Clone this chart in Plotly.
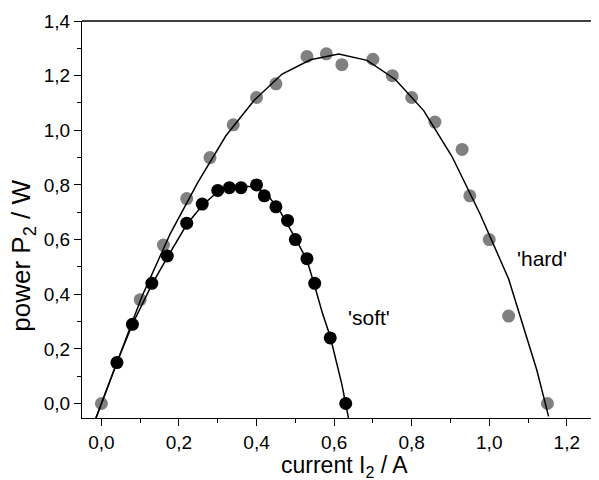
import plotly.graph_objects as go

# measured data: 'hard' source (grey) and 'soft' source (black)
hard_I = [0.0, 0.10, 0.16, 0.22, 0.28, 0.34, 0.40, 0.45, 0.53, 0.58, 0.62, 0.70, 0.75, 0.80, 0.86, 0.93, 0.95, 1.00, 1.05, 1.15]
hard_P = [0.00, 0.38, 0.58, 0.75, 0.90, 1.02, 1.12, 1.17, 1.27, 1.28, 1.24, 1.26, 1.20, 1.12, 1.03, 0.93, 0.76, 0.60, 0.32, 0.00]

soft_I = [0.04, 0.08, 0.13, 0.17, 0.22, 0.26, 0.30, 0.33, 0.36, 0.40, 0.42, 0.45, 0.48, 0.50, 0.53, 0.55, 0.59, 0.63]
soft_P = [0.15, 0.29, 0.44, 0.54, 0.66, 0.73, 0.78, 0.79, 0.79, 0.80, 0.76, 0.72, 0.67, 0.60, 0.53, 0.44, 0.24, 0.00]

# fitted curves
hard_fit_I = [-0.014, 0.032, 0.104, 0.177, 0.249, 0.321, 0.394, 0.466, 0.539, 0.612, 0.685, 0.758, 0.831, 0.904, 0.977, 1.050, 1.123, 1.153]
hard_fit_P = [-0.053, 0.12, 0.39, 0.62, 0.81, 0.98, 1.11, 1.206, 1.258, 1.279, 1.256, 1.186, 1.072, 0.904, 0.692, 0.456, 0.121, -0.047]

soft_fit_I = [-0.014, 0.04, 0.08, 0.13, 0.17, 0.22, 0.26, 0.30, 0.35, 0.40, 0.43, 0.46, 0.50, 0.53, 0.55, 0.57, 0.59, 0.62, 0.637]
soft_fit_P = [-0.053, 0.15, 0.29, 0.435, 0.535, 0.655, 0.725, 0.775, 0.797, 0.792, 0.76, 0.705, 0.605, 0.525, 0.43, 0.33, 0.245, 0.07, -0.053]

x_ticks = [0.0, 0.2, 0.4, 0.6, 0.8, 1.0, 1.2]
y_ticks = [0.0, 0.2, 0.4, 0.6, 0.8, 1.0, 1.2, 1.4]

FONT = "Arial, Liberation Sans, sans-serif"

fig = go.Figure()
fig.add_trace(go.Scatter(x=hard_I, y=hard_P, mode="markers",
                         marker=dict(color="#808080", size=13, line=dict(width=0)),
                         name="hard"))
fig.add_trace(go.Scatter(x=hard_fit_I, y=hard_fit_P, mode="lines",
                         line=dict(color="black", width=1.5), name="hard fit"))
fig.add_trace(go.Scatter(x=soft_I, y=soft_P, mode="markers",
                         marker=dict(color="black", size=13, line=dict(width=0)),
                         name="soft"))
fig.add_trace(go.Scatter(x=soft_fit_I, y=soft_fit_P, mode="lines",
                         line=dict(color="black", width=1.5), name="soft fit"))

axis_common = dict(showgrid=False, zeroline=False, showline=True, linecolor="black",
                   linewidth=1.3, ticks="outside", ticklen=7, tickwidth=1.2,
                   tickcolor="black", tickformat=".1f",
                   tickfont=dict(family=FONT, size=19, color="black"))

fig.update_xaxes(range=[-0.05, 1.283], tickvals=x_ticks, mirror=False,
                 minor=dict(dtick=0.1, tick0=0, ticks="outside", ticklen=4, tickwidth=1.2,
                            tickcolor="black"),
                 **axis_common)
fig.update_yaxes(range=[-0.053, 1.4], tickvals=y_ticks,
                 minor=dict(dtick=0.1, tick0=0, ticks="outside", ticklen=4, tickwidth=1.2,
                            tickcolor="black"),
                 **axis_common)

# top border line
fig.add_shape(type="line", xref="paper", yref="paper", x0=0, x1=1, y0=1, y1=1,
              line=dict(color="black", width=1.3))

fig.add_annotation(text="current I<sub>2</sub> / A", xref="paper", yref="paper",
                   x=(344 - 82) / 517, y=-(458 - 410) / 389, xanchor="center", yanchor="middle",
                   showarrow=False, font=dict(family=FONT, size=23, color="black"))
fig.add_annotation(text="power P<sub>2</sub> / W", xref="paper", yref="paper",
                   x=-(82 - 23) / 517, y=(410 - 251) / 389, xanchor="center", yanchor="middle",
                   textangle=-90, showarrow=False, font=dict(family=FONT, size=26, color="black"))

fig.add_annotation(text="'soft'", x=0.691, y=0.316, showarrow=False,
                   font=dict(family=FONT, size=21, color="black"))
fig.add_annotation(text="'hard'", x=1.137, y=0.532, showarrow=False,
                   font=dict(family=FONT, size=21, color="black"))

# page has an 8px body margin, so the figure is drawn 8px smaller and shifted
fig.update_layout(width=591, height=472, margin=dict(l=74, r=0, t=13, b=62),
                  paper_bgcolor="white", plot_bgcolor="white", showlegend=False,
                  separators=",.", font=dict(family=FONT, color="black"))

fig.write_html("out.html")
